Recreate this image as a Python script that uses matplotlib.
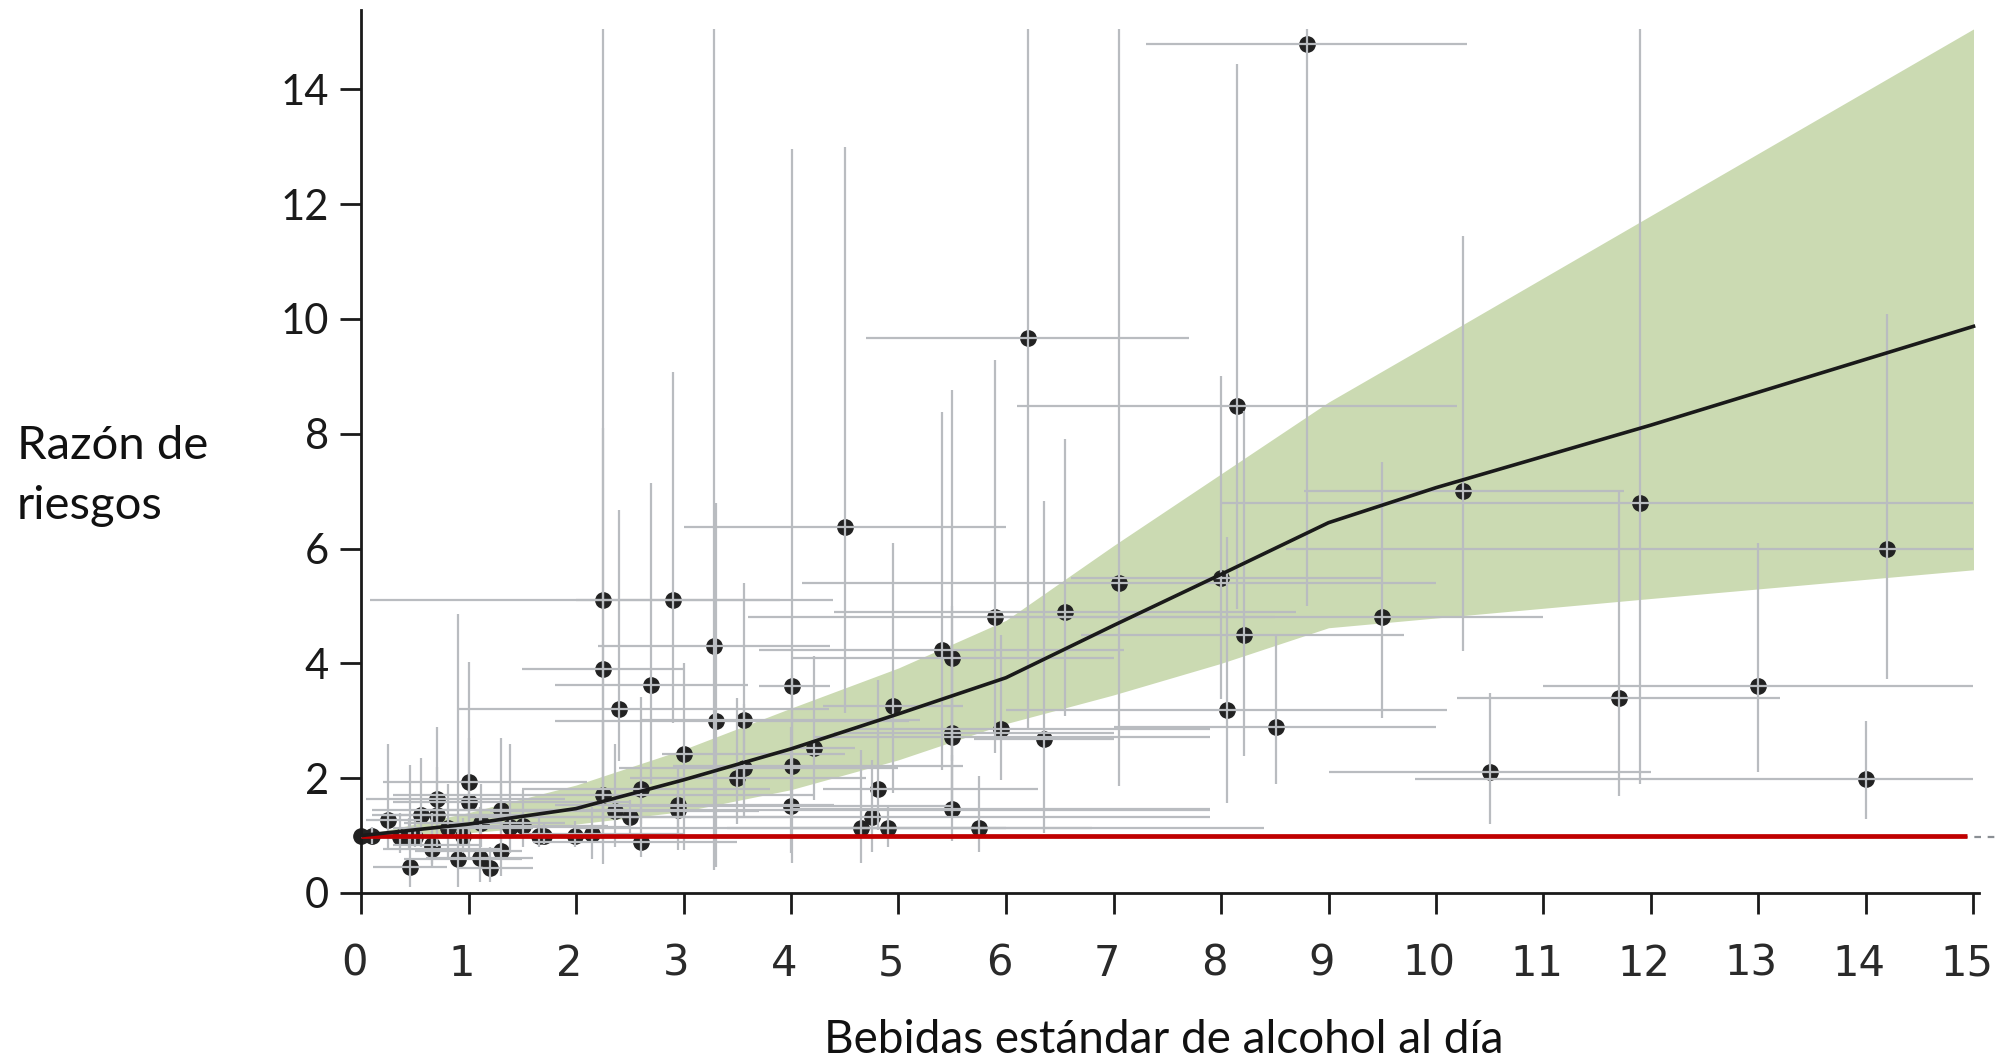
import matplotlib
matplotlib.use("Agg")
import matplotlib.pyplot as plt
import matplotlib.transforms as mtrans
import numpy as np

# ---- data -------------------------------------------------------------
# study estimates: drinks/day, relative risk, exposure range, CI
pt_x = [0.00, 0.10, 0.25, 0.36, 0.45, 0.50, 0.46, 0.56, 0.66, 0.66, 0.71, 0.71, 0.81, 0.90,
        0.95, 1.00, 1.00, 1.11, 1.12, 1.20, 1.30, 1.30, 1.39, 1.51, 1.66, 1.70, 1.99, 2.15,
        2.25, 2.25, 2.25, 2.36, 2.40, 2.50, 2.60, 2.60, 2.70, 2.90, 2.95, 2.95, 3.00, 3.28,
        3.30, 3.50, 3.56, 3.56, 4.01, 4.01, 4.00, 4.21, 4.50, 4.65, 4.75, 4.81, 4.90, 4.95,
        5.40, 5.50, 5.50, 5.50, 5.50, 5.75, 5.90, 5.95, 6.20, 6.35, 6.55, 7.05, 8.00, 8.06,
        8.15, 8.21, 8.51, 8.80, 9.50, 10.25, 10.50, 11.70, 11.90, 13.00, 14.00, 14.20]
pt_y = [1.00, 1.00, 1.27, 0.98, 0.98, 0.98, 0.46, 1.36, 0.84, 0.76, 1.64, 1.35, 1.13, 0.59,
        1.00, 1.94, 1.58, 0.61, 1.22, 0.44, 0.73, 1.45, 1.15, 1.17, 1.00, 1.00, 1.00, 1.02,
        5.10, 3.90, 1.70, 1.43, 3.20, 1.33, 0.88, 1.82, 3.62, 5.10, 1.45, 1.53, 2.42, 4.30,
        3.00, 2.00, 2.17, 3.01, 3.61, 2.21, 1.52, 2.52, 6.38, 1.14, 1.33, 1.82, 1.13, 3.26,
        4.24, 4.09, 2.79, 2.72, 1.46, 1.14, 4.80, 2.86, 9.67, 2.68, 4.90, 5.40, 5.49, 3.19,
        8.49, 4.50, 2.90, 14.78, 4.80, 7.00, 2.10, 3.40, 6.79, 3.60, 1.99, 6.00]
x_low = [0.00, 0.00, 0.05, 0.10, 0.15, 0.20, 0.11, 0.20, 0.30, 0.20, 0.05, 0.10, 0.30, 0.40,
         0.10, 0.20, 0.30, 0.60, 0.40, 0.90, 0.50, 0.60, 0.80, 1.00, 1.10, 1.20, 1.40, 1.50,
         0.08, 1.50, 0.30, 1.20, 0.90, 1.00, 1.60, 1.50, 1.80, 2.00, 0.10, 1.80, 2.80, 2.20,
         1.80, 2.50, 2.40, 2.60, 3.70, 2.90, 2.30, 4.00, 3.00, 3.40, 1.00, 4.30, 4.00, 4.30,
         3.70, 4.00, 4.40, 4.20, 4.00, 2.00, 3.60, 4.60, 4.70, 5.70, 4.40, 4.10, 6.60, 6.00,
         6.10, 6.70, 7.00, 7.30, 5.90, 8.77, 9.00, 10.20, 8.00, 11.00, 9.80, 8.60]
x_high = [0.00, 0.30, 0.55, 0.80, 0.90, 1.00, 0.80, 1.60, 1.10, 1.30, 1.90, 1.50, 1.60, 1.50,
          2.00, 2.10, 2.50, 1.60, 1.90, 1.60, 1.50, 2.60, 2.50, 2.30, 2.20, 2.30, 2.60, 3.00,
          4.39, 3.00, 4.20, 3.70, 4.35, 4.00, 3.50, 3.80, 3.60, 3.90, 7.90, 4.40, 4.50, 4.36,
          5.10, 4.70, 5.00, 5.20, 4.36, 5.60, 5.50, 4.60, 6.00, 6.80, 7.90, 6.30, 6.00, 5.60,
          7.10, 7.00, 7.00, 7.90, 7.90, 8.40, 8.50, 7.90, 7.70, 7.00, 8.70, 10.00, 9.50, 10.10,
          10.20, 9.70, 10.00, 10.29, 11.00, 11.75, 12.00, 13.20, 15.00, 15.00, 15.00, 15.00]
y_low = [1.00, 0.85, 0.75, 0.70, 0.75, 0.80, 0.11, 0.80, 0.50, 0.45, 0.95, 0.80, 0.60, 0.11,
         0.70, 0.60, 0.90, 0.20, 0.80, 0.20, 0.30, 0.90, 0.70, 0.80, 0.80, 0.85, 0.80, 0.60,
         0.90, 1.20, 0.50, 0.80, 2.30, 1.02, 0.63, 1.20, 1.90, 2.96, 0.75, 1.00, 0.75, 0.40,
         0.46, 1.20, 1.33, 1.80, 0.52, 1.30, 0.70, 1.62, 3.13, 0.52, 0.72, 1.10, 0.80, 1.74,
         2.14, 2.30, 1.60, 1.40, 0.90, 0.72, 2.44, 1.97, 2.85, 1.05, 3.08, 1.86, 3.38, 1.57,
         4.94, 2.38, 1.90, 5.00, 3.05, 4.22, 1.20, 1.69, 1.90, 2.10, 1.29, 3.73]
y_high = [1.00, 1.15, 2.60, 1.40, 1.30, 1.25, 2.23, 2.35, 1.40, 1.20, 2.90, 2.20, 1.90, 4.86,
          1.30, 4.02, 2.70, 1.50, 1.90, 0.80, 1.90, 2.70, 2.60, 1.80, 1.30, 1.20, 1.25, 1.50,
          15.05, 8.10, 3.00, 2.60, 6.67, 1.62, 1.50, 3.42, 7.15, 9.08, 2.00, 2.20, 4.00, 15.05,
          6.80, 3.40, 3.30, 5.40, 12.96, 3.80, 2.90, 4.12, 13.00, 2.49, 2.32, 3.71, 1.50, 6.10,
          8.38, 8.76, 5.00, 4.40, 2.40, 2.03, 9.28, 4.50, 15.05, 6.83, 7.90, 15.05, 9.00, 6.20,
          14.44, 8.40, 4.49, 15.05, 7.50, 11.45, 3.48, 7.00, 15.05, 6.10, 3.00, 10.08]

# pooled dose-response curve and its confidence band
curve_x = [0, 1, 2, 3, 4, 5, 6, 7, 8, 9, 10, 12, 15]
curve_y = [1.00, 1.20, 1.47, 1.97, 2.51, 3.12, 3.75, 4.66, 5.55, 6.45, 7.06, 8.15, 9.87]
band_lo = [1.00, 1.05, 1.20, 1.42, 1.80, 2.32, 2.95, 3.45, 4.00, 4.62, 4.79, 5.13, 5.63]
band_hi = [1.00, 1.40, 1.88, 2.50, 3.22, 3.92, 4.75, 6.05, 7.30, 8.55, 9.63, 11.80, 15.05]

x_ticks = list(range(0, 16))
y_ticks = [0, 2, 4, 6, 8, 10, 12, 14]
x_title = "Bebidas estándar de alcohol al día"
y_title = "Razón de\nriesgos"

# ---- figure -----------------------------------------------------------
W, H = 1995, 1057
fig = plt.figure(figsize=(W / 100, H / 100), dpi=100)
ax = fig.add_axes([361 / W, (H - 893) / H, (15.05 * 107.5) / W, (893 - 10) / H])
ax.set_xlim(0, 15.05)
ax.set_ylim(0, 15.38)

ax.fill_between(curve_x, band_lo, band_hi, color="#cbdab2", lw=0, zorder=1)

px = np.array(pt_x)
py = np.array(pt_y)
xerr = [px - np.array(x_low), np.array(x_high) - px]
yerr = [py - np.array(y_low), np.array(y_high) - py]

ax.plot(px, py, "o", color="#222222", ms=11, mec="#222222", zorder=2, clip_on=False)
ax.errorbar(px, py, xerr=xerr, yerr=yerr, fmt="none", ecolor="#b9bcc0",
            elinewidth=1.6, capsize=0, zorder=3)

ax.plot([0, 15.25], [0.97, 0.97], color="#8a8f94", lw=1.6, ls=(0, (3, 3)),
        zorder=4, clip_on=False)
ax.plot([0, 14.94], [1.0, 1.0], color="#c00000", lw=3.4, zorder=5, solid_capstyle="butt")
ax.plot(curve_x, curve_y, color="#1a1a1a", lw=2.6, zorder=6)

for s in ["top", "right"]:
    ax.spines[s].set_visible(False)
for s in ["left", "bottom"]:
    ax.spines[s].set_linewidth(2.0)
    ax.spines[s].set_color("#1a1a1a")

ax.set_xticks(x_ticks)
ax.set_yticks(y_ticks)
ax.set_xticklabels([str(t) for t in x_ticks],
                   family=["DejaVu Sans Condensed", "DejaVu Sans"], fontsize=30, color="#2a2a2a")
ax.set_yticklabels([str(t) for t in y_ticks], family="Lato", fontsize=30, color="#1a1a1a")
ax.tick_params(axis="x", length=15, width=2, direction="out", pad=21, color="#1a1a1a")
ax.tick_params(axis="y", length=15, width=2, direction="out", pad=8, color="#1a1a1a")

shift = mtrans.ScaledTranslation(-7 / 100, 0, fig.dpi_scale_trans)
for lab in ax.get_xticklabels():
    lab.set_transform(lab.get_transform() + shift)

fig.text(17 / W, 1 - 476 / H, y_title, family="Lato", fontsize=34, ha="left", va="center",
         linespacing=1.55, color="#111111")
fig.text(1164 / W, 0.004, x_title, family="Lato", fontsize=33, ha="center", va="baseline",
         color="#111111")

fig.savefig("out.png", dpi=100)
